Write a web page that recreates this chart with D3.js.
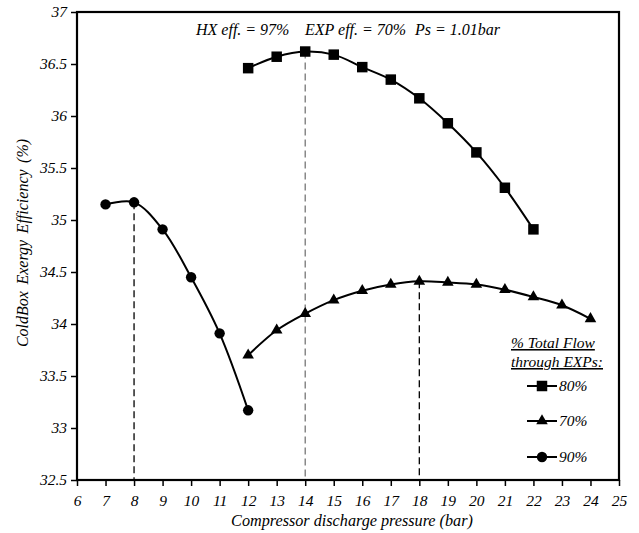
<!DOCTYPE html>
<html>
<head>
<meta charset="utf-8">
<script src="https://cdn.jsdelivr.net/npm/d3@7"></script>
<style>
  body { margin: 0; background: #fff; }
</style>
</head>
<body>
<svg id="chart" width="639" height="533"></svg>
<script>
// ---- data ----
const xTicks = [6,7,8,9,10,11,12,13,14,15,16,17,18,19,20,21,22,23,24,25];
const yTicks = [32.5,33,33.5,34,34.5,35,35.5,36,36.5,37];

const p80 = [12,13,14,15,16,17,18,19,20,21,22];
const e80 = [36.46,36.57,36.62,36.59,36.47,36.35,36.17,35.93,35.65,35.31,34.91];

const p70 = [12,13,14,15,16,17,18,19,20,21,22,23,24];
const e70 = [33.70,33.94,34.10,34.23,34.32,34.38,34.41,34.40,34.38,34.33,34.26,34.18,34.05];

const p90 = [7,8,9,10,11,12];
const e90 = [35.15,35.17,34.91,34.45,33.91,33.17];

const seriesNames = ["80%","70%","90%"];
const seriesSymbols = ["square","triangle","circle"];
const optimaX = [8,14,18];
const optimaY = [35.17,36.62,34.41];
const optimaColor = ["#000","#777","#000"];

const annotationParts = ["HX eff. = 97%", "EXP eff. = 70%", "Ps = 1.01bar"];
const legendTitle = ["% Total Flow", "through EXPs:"];
const xTitle = "Compressor discharge pressure (bar)";
const yTitle = "ColdBox Exergy Efficiency (%)";

const FONT = "'Liberation Serif', 'Times New Roman', Times, 'DejaVu Serif', serif";

// ---- layout ----
const svg = d3.select("#chart");
const L = 77, R = 619, T = 12, B = 480;
const x = d3.scaleLinear().domain([6,25]).range([L,R]);
const y = d3.scaleLinear().domain([32.5,37]).range([B,T]);

// axes
const xAxis = svg.append("g").attr("transform",`translate(0,${B})`)
  .call(d3.axisBottom(x).tickValues(xTicks).tickSize(6).tickSizeOuter(0).tickFormat(d3.format("d")));
xAxis.selectAll("text").attr("dy","1.1em");
const yAxis = svg.append("g").attr("transform",`translate(${L},0)`)
  .call(d3.axisLeft(y).tickValues(yTicks).tickSize(6).tickSizeOuter(0).tickFormat(d => String(d)));
yAxis.selectAll("text").attr("x",-10);
svg.selectAll(".domain").remove();
svg.selectAll(".tick line").attr("stroke","#000").attr("stroke-width",1.5);
svg.selectAll("g").attr("font-family",null).attr("font-size",null);

// frame
svg.append("rect").attr("x",L).attr("y",T).attr("width",R-L).attr("height",B-T)
  .attr("fill","none").attr("stroke","#000").attr("stroke-width",2.2);

// optimum dashed lines
optimaX.forEach((v,i) => {
  svg.append("line").attr("x1",x(v)).attr("x2",x(v)).attr("y1",y(optimaY[i])).attr("y2",B)
    .attr("stroke",optimaColor[i]).attr("stroke-width",1.3).attr("stroke-dasharray","7,4");
});

// series
const series = [[p80,e80],[p70,e70],[p90,e90]];
const line = d3.line().x(d=>x(d[0])).y(d=>y(d[1])).curve(d3.curveCatmullRom.alpha(0.5));
function symbolPath(kind){
  if(kind==="square") return d3.symbol().type(d3.symbolSquare).size(110)();
  if(kind==="triangle") return d3.symbol().type(d3.symbolTriangle).size(58)();
  return d3.symbol().type(d3.symbolCircle).size(85)();
}
series.forEach((s,i) => {
  const pts = s[0].map((p,j)=>[p,s[1][j]]);
  svg.append("path").attr("d",line(pts)).attr("fill","none").attr("stroke","#000").attr("stroke-width",2);
  svg.append("g").selectAll("path").data(pts).join("path")
    .attr("d",symbolPath(seriesSymbols[i]))
    .attr("transform",d=>`translate(${x(d[0])},${y(d[1])})`)
    .attr("fill","#000");
});

// annotation
const annX = [196, 305, 415];
annotationParts.forEach((t,i) => {
  svg.append("text").attr("x",annX[i]).attr("y",35).attr("font-size",16).text(t);
});

// legend
legendTitle.forEach((t,i) => {
  svg.append("text").attr("x",511).attr("y",348+i*19).attr("font-size",15.5)
    .attr("text-decoration","underline").text(t);
});
const legY = [386,421,457];
seriesNames.forEach((n,i) => {
  svg.append("line").attr("x1",527).attr("x2",557).attr("y1",legY[i]).attr("y2",legY[i])
    .attr("stroke","#000").attr("stroke-width",2);
  svg.append("path").attr("d",symbolPath(seriesSymbols[i]))
    .attr("transform",`translate(542,${legY[i]})`).attr("fill","#000");
  svg.append("text").attr("x",559).attr("y",legY[i]+5).attr("font-size",15.5).text(n);
});

// axis titles
svg.append("text").attr("x",352).attr("y",526).attr("text-anchor","middle").attr("font-size",16.2).text(xTitle);
svg.append("text").attr("transform",`translate(28,243) rotate(-90)`).attr("text-anchor","middle")
  .attr("font-size",16).style("word-spacing","2.5px").text(yTitle);

// apply font to all text
svg.selectAll("text").style("font-family",FONT).style("font-style","italic").attr("fill","#000");
svg.selectAll(".tick text").style("font-size","15.5px");
</script>
</body>
</html>
